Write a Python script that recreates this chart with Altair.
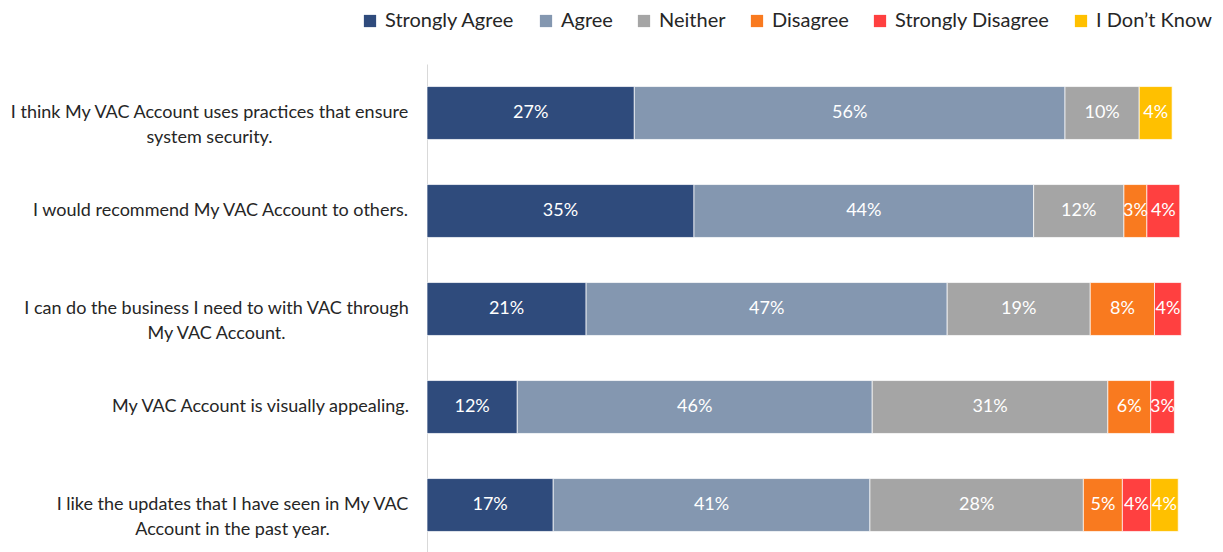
import altair as alt
import pandas as pd

statements = [
    "I think My VAC Account uses practices that ensure|system security.",
    "I would recommend My VAC Account to others.",
    "I can do the business I need to with VAC through|My VAC Account.",
    "My VAC Account is visually appealing.",
    "I like the updates that I have seen in My VAC|Account in the past year.",
]
# distance from axis to the centre of each (centre-aligned) label block
label_pad = [218, 207, 211, 167, 195]

categories = ["Strongly Agree", "Agree", "Neither", "Disagree", "Strongly Disagree", "I Don\u2019t Know"]
colors = ["#2F4B7C", "#8497B0", "#A5A5A5", "#F97A1F", "#FF4040", "#FFC000"]

strongly_agree = [27.1, 34.9, 20.8, 11.8, 16.5]
agree = [56.3, 44.4, 47.2, 46.4, 41.4]
neither = [9.7, 11.8, 18.7, 30.8, 27.9]
disagree = [0.0, 3.0, 8.4, 5.6, 5.1]
strongly_disagree = [0.0, 4.3, 3.5, 3.1, 3.7]
dont_know = [4.3, 0.0, 0.0, 0.0, 3.6]

series = [strongly_agree, agree, neither, disagree, strongly_disagree, dont_know]
rows = []
for ci, (cat, vals) in enumerate(zip(categories, series)):
    for si, (stmt, v) in enumerate(zip(statements, vals)):
        if v > 0:
            rows.append({"statement": stmt, "category": cat, "order": ci, "value": v})
df = pd.DataFrame(rows)

FONT = "Lato"

pad_cond = {
    "condition": [
        {"test": "datum.value == " + repr(s), "value": p}
        for s, p in zip(statements[:-1], label_pad[:-1])
    ],
    "value": label_pad[-1],
}

base = alt.Chart(df).transform_stack(
    stack="value", groupby=["statement"], as_=["x0", "x1"],
    sort=[alt.SortField("order", order="ascending")]
).transform_calculate(
    mid="(datum.x0 + datum.x1) / 2",
    lbl="format(datum.value / 100, '.0%')"
)

yenc = alt.Y("statement:N", sort=statements, title=None,
             scale=alt.Scale(paddingInner=0.46, paddingOuter=0.23),
             axis=alt.Axis(labelExpr="split(datum.label, '|')", labelFontSize=18,
                           labelFont=FONT, labelColor="#262626", labelAlign="center",
                           labelLineHeight=25, ticks=False, grid=False,
                           domainColor="#D9D9D9", domainWidth=1, labelPadding=pad_cond,
                           labelLimit=500))

bars = base.mark_bar(stroke="white", strokeWidth=0.7).encode(
    x=alt.X("x0:Q", scale=alt.Scale(domain=[0, 100]), axis=None),
    x2="x1:Q",
    y=yenc,
    color=alt.Color("category:N", sort=categories,
                    scale=alt.Scale(domain=categories, range=colors),
                    legend=alt.Legend(title=None, orient="none", direction="horizontal",
                                      legendX=-67, legendY=-53, symbolType="square",
                                      symbolSize=150, symbolStrokeWidth=0,
                                      labelFontSize=20, labelFont=FONT, labelColor="#262626",
                                      columnPadding=21, symbolOffset=0, labelOffset=5)),
    order=alt.Order("order:Q"),
)

labels = base.mark_text(color="white", fontSize=18, font=FONT).encode(
    x=alt.X("mid:Q", scale=alt.Scale(domain=[0, 100]), axis=None),
    y=alt.Y("statement:N", sort=statements),
    text="lbl:N",
)

chart = alt.layer(bars, labels).properties(
    width=765, height=490,
    padding={"left": 419, "top": 56, "right": 22, "bottom": 0},
    autosize=alt.AutoSizeParams(type="none"),
).configure_view(stroke=None)

chart.save("out.html", embed_options={"renderer": "svg", "actions": False})
